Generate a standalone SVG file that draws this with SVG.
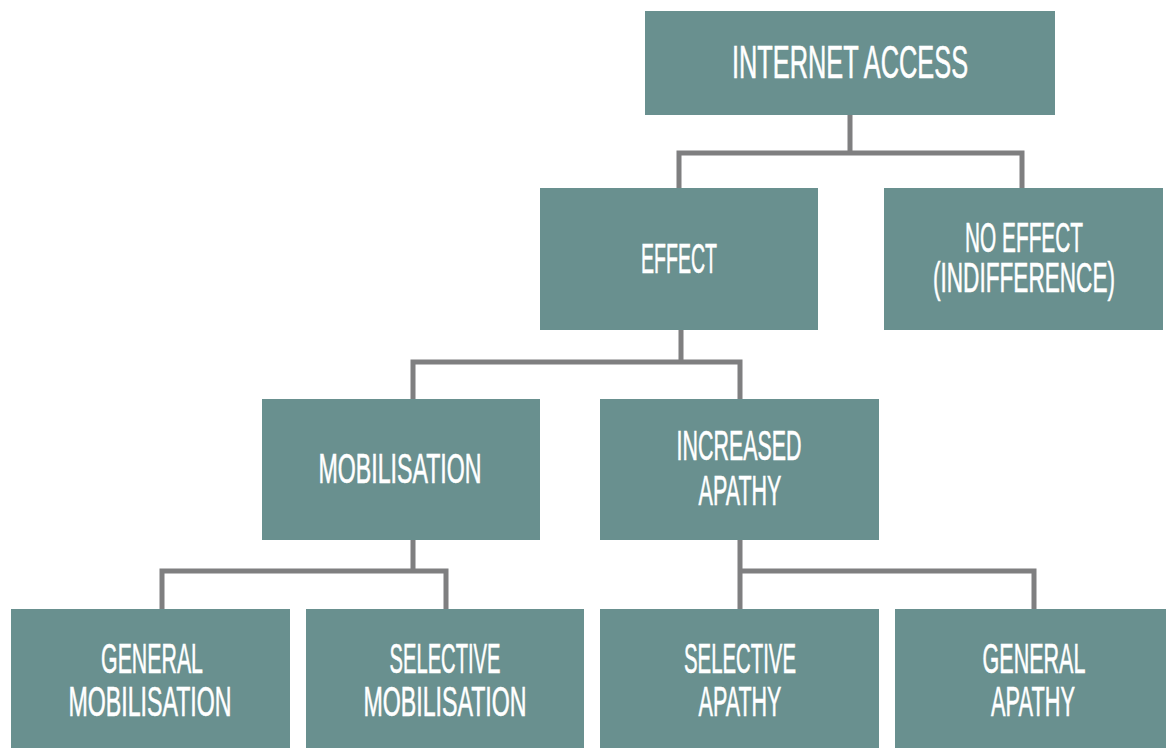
<svg xmlns="http://www.w3.org/2000/svg" width="1166" height="748" viewBox="0 0 1166 748">
<style>
.box{fill:#69908f}
.t{font-family:"Liberation Sans",Arial,sans-serif;fill:#ffffff;stroke:#ffffff;stroke-width:0.6;text-anchor:middle;font-size:42px}
.big{font-size:46px}
.c{fill:none;stroke:#7f7f80;stroke-width:5;stroke-linejoin:miter}
</style>
<rect width="1166" height="748" fill="#ffffff"/>
<g id="connectors">
<path class="c" d="M850 115 V153 M679 188 V153 H1022 V188"/>
<path class="c" d="M681 330 V362 M413 399 V362 H740 V399"/>
<path class="c" d="M413 540 V571 M162 609 V571 H446 V609"/>
<path class="c" d="M740 540 V609 M740 571 H1034 V609"/>
</g>
<g id="internet-access">
<rect class="box" x="645" y="11" width="410" height="104"/>
<text class="t big" transform="translate(850 78) scale(0.551 1)">INTERNET ACCESS</text>
</g>
<g id="effect">
<rect class="box" x="540" y="188" width="278" height="142"/>
<text class="t" transform="translate(679 273) scale(0.465 1)">EFFECT</text>
</g>
<g id="no-effect">
<rect class="box" x="884" y="188" width="279" height="142"/>
<text class="t" transform="translate(1024 252) scale(0.496 1)">NO EFFECT</text>
<text class="t" transform="translate(1024 292) scale(0.538 1)">(INDIFFERENCE)</text>
</g>
<g id="mobilisation">
<rect class="box" x="262" y="399" width="278" height="141"/>
<text class="t" transform="translate(400 483) scale(0.552 1)">MOBILISATION</text>
</g>
<g id="increased-apathy">
<rect class="box" x="600" y="399" width="279" height="141"/>
<text class="t" transform="translate(739 460) scale(0.51 1)">INCREASED</text>
<text class="t" transform="translate(740 505) scale(0.512 1)">APATHY</text>
</g>
<g id="general-mobilisation">
<rect class="box" x="11" y="609" width="279" height="139"/>
<text class="t" transform="translate(152 673) scale(0.508 1)">GENERAL</text>
<text class="t" transform="translate(150 716) scale(0.552 1)">MOBILISATION</text>
</g>
<g id="selective-mobilisation">
<rect class="box" x="306" y="609" width="278" height="139"/>
<text class="t" transform="translate(445 673) scale(0.48 1)">SELECTIVE</text>
<text class="t" transform="translate(445 716) scale(0.552 1)">MOBILISATION</text>
</g>
<g id="selective-apathy">
<rect class="box" x="600" y="609" width="279" height="139"/>
<text class="t" transform="translate(740 673) scale(0.485 1)">SELECTIVE</text>
<text class="t" transform="translate(740 716) scale(0.512 1)">APATHY</text>
</g>
<g id="general-apathy">
<rect class="box" x="895" y="609" width="271" height="139"/>
<text class="t" transform="translate(1034 673) scale(0.513 1)">GENERAL</text>
<text class="t" transform="translate(1033 716) scale(0.518 1)">APATHY</text>
</g>
</svg>
